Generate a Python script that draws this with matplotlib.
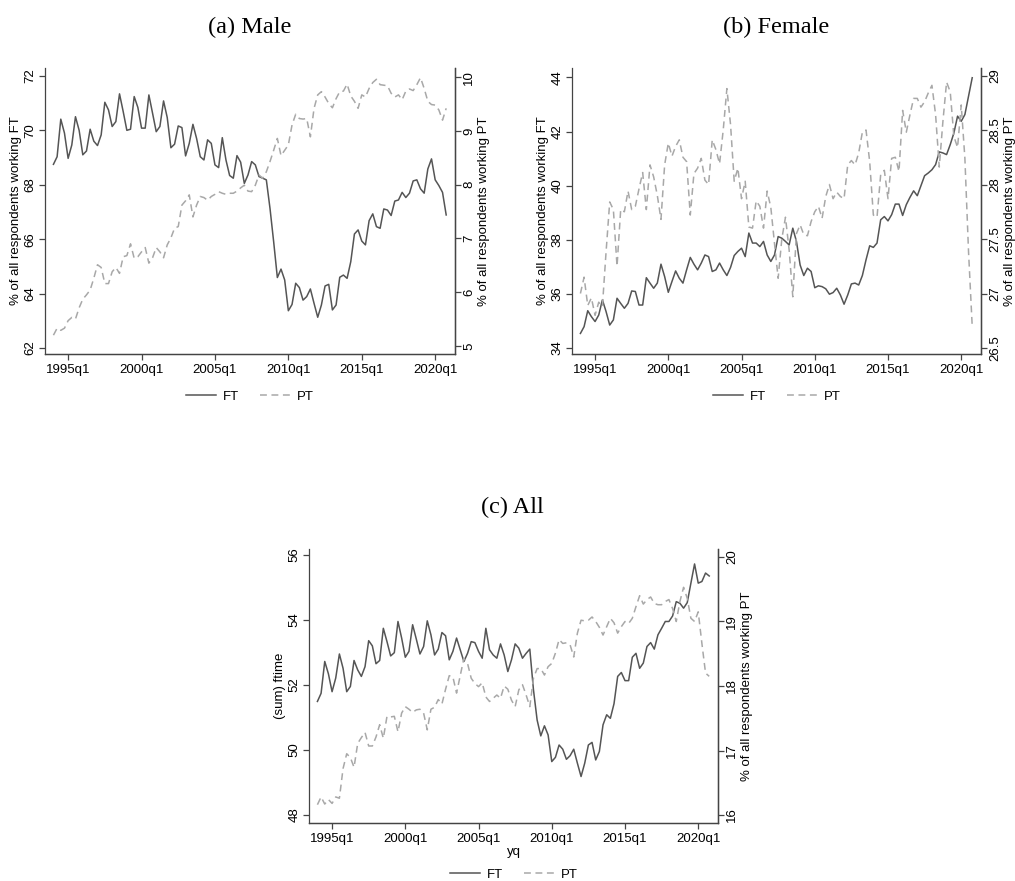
import numpy as np
import matplotlib
matplotlib.use("Agg")
import matplotlib.pyplot as plt
from matplotlib.lines import Line2D

plt.rcParams["font.family"] = ["Liberation Sans", "DejaVu Sans"]

# quarterly series, 1994q1 .. 2020q4
START_YEAR = 1994
TICK_LABELS = ["1995q1", "2000q1", "2005q1", "2010q1", "2015q1", "2020q1"]

male_ft = [68.75, 69.03, 70.41, 69.9, 68.97, 69.46, 70.5, 70.0, 69.1, 69.24,
           70.04, 69.6, 69.44, 69.83, 71.03, 70.75, 70.14, 70.32, 71.34, 70.69,
           70.0, 70.04, 71.24, 70.84, 70.08, 70.08, 71.3, 70.63, 69.95, 70.14,
           71.08, 70.47, 69.36, 69.49, 70.16, 70.1, 69.06, 69.52, 70.22, 69.7,
           69.03, 68.91, 69.65, 69.52, 68.73, 68.63, 69.73, 68.91, 68.34, 68.24,
           69.07, 68.83, 68.05, 68.36, 68.85, 68.73, 68.3, 68.24, 68.18, 67.13,
           65.9, 64.59, 64.9, 64.5, 63.37, 63.6, 64.38, 64.22, 63.76, 63.89,
           64.17, 63.64, 63.13, 63.58, 64.28, 64.34, 63.4, 63.58, 64.6, 64.68,
           64.56, 65.17, 66.19, 66.34, 65.93, 65.79, 66.68, 66.93, 66.46, 66.4,
           67.11, 67.07, 66.87, 67.4, 67.44, 67.72, 67.53, 67.69, 68.14, 68.18,
           67.85, 67.69, 68.58, 68.95, 68.18, 67.97, 67.72, 66.89]
male_pt = [5.2, 5.33, 5.29, 5.33, 5.47, 5.53, 5.5, 5.71, 5.87, 5.95,
           6.04, 6.26, 6.51, 6.46, 6.16, 6.16, 6.38, 6.46, 6.35, 6.66,
           6.68, 6.9, 6.63, 6.66, 6.75, 6.83, 6.54, 6.64, 6.83, 6.75,
           6.64, 6.88, 7.01, 7.19, 7.22, 7.62, 7.7, 7.81, 7.4, 7.62,
           7.78, 7.76, 7.71, 7.78, 7.82, 7.87, 7.84, 7.82, 7.84, 7.84,
           7.88, 7.94, 7.99, 7.88, 7.87, 7.99, 8.18, 8.12, 8.24, 8.43,
           8.64, 8.86, 8.54, 8.64, 8.74, 9.11, 9.31, 9.23, 9.22, 9.23,
           8.89, 9.42, 9.67, 9.73, 9.63, 9.51, 9.43, 9.6, 9.73, 9.74,
           9.87, 9.65, 9.55, 9.42, 9.67, 9.63, 9.79, 9.9, 9.96, 9.86,
           9.85, 9.84, 9.7, 9.63, 9.67, 9.58, 9.74, 9.78, 9.75, 9.86,
           9.99, 9.79, 9.55, 9.49, 9.48, 9.39, 9.2, 9.42]

female_ft = [34.54, 34.79, 35.38, 35.16, 34.98, 35.22, 35.78, 35.35, 34.85, 35.04,
             35.84, 35.65, 35.47, 35.65, 36.11, 36.09, 35.59, 35.59, 36.6, 36.4,
             36.21, 36.4, 37.1, 36.64, 36.06, 36.46, 36.85, 36.58, 36.4, 36.89,
             37.35, 37.1, 36.89, 37.14, 37.44, 37.38, 36.83, 36.89, 37.14, 36.89,
             36.68, 36.98, 37.42, 37.57, 37.69, 37.38, 38.25, 37.88, 37.88, 37.75,
             37.94, 37.44, 37.2, 37.44, 38.12, 38.06, 37.94, 37.81, 38.43, 37.94,
             37.07, 36.68, 36.95, 36.83, 36.23, 36.3, 36.27, 36.19, 35.99, 36.05,
             36.21, 35.96, 35.62, 35.96, 36.37, 36.4, 36.33, 36.68, 37.26, 37.78,
             37.72, 37.88, 38.74, 38.86, 38.7, 38.93, 39.32, 39.32, 38.9, 39.3,
             39.57, 39.81, 39.63, 40.0, 40.37, 40.47, 40.59, 40.78, 41.25, 41.21,
             41.15, 41.52, 41.95, 42.57, 42.38, 42.63, 43.31, 43.99]
female_pt = [27.0, 27.15, 26.89, 26.96, 26.8, 26.92, 26.88, 27.38, 27.84, 27.77,
             27.25, 27.77, 27.75, 27.94, 27.77, 27.8, 27.96, 28.11, 27.77, 28.18,
             28.07, 27.9, 27.68, 28.18, 28.38, 28.26, 28.35, 28.41, 28.25, 28.21,
             27.72, 28.1, 28.15, 28.24, 28.04, 28.0, 28.41, 28.32, 28.19, 28.5,
             28.88, 28.55, 28.03, 28.15, 27.87, 28.03, 27.61, 27.6, 27.85, 27.8,
             27.6, 27.94, 27.79, 27.46, 27.14, 27.5, 27.7, 27.4, 26.97, 27.55,
             27.63, 27.54, 27.53, 27.66, 27.75, 27.8, 27.69, 27.89, 28.0, 27.87,
             27.93, 27.89, 27.87, 28.18, 28.22, 28.18, 28.29, 28.48, 28.5, 28.21,
             27.72, 27.7, 28.09, 28.13, 27.87, 28.24, 28.25, 28.12, 28.68, 28.48,
             28.64, 28.79, 28.79, 28.71, 28.76, 28.84, 28.91, 28.64, 28.16, 28.58,
             28.94, 28.85, 28.44, 28.34, 28.73, 28.24, 27.38, 26.7]

all_ft = [51.49, 51.74, 52.72, 52.34, 51.79, 52.21, 52.95, 52.51, 51.79, 51.95,
          52.75, 52.46, 52.26, 52.56, 53.36, 53.2, 52.65, 52.75, 53.74, 53.33,
          52.89, 52.99, 53.95, 53.44, 52.85, 53.03, 53.85, 53.41, 52.95, 53.18,
          53.97, 53.54, 52.92, 53.1, 53.61, 53.51, 52.77, 53.03, 53.44, 53.08,
          52.72, 52.97, 53.33, 53.3, 53.03, 52.82, 53.74, 53.08, 52.92, 52.82,
          53.26, 52.92, 52.41, 52.77, 53.26, 53.13, 52.82, 52.97, 53.1, 51.85,
          50.92, 50.43, 50.74, 50.46, 49.64, 49.77, 50.15, 50.02, 49.71, 49.82,
          50.02, 49.59, 49.18, 49.59, 50.15, 50.23, 49.69, 49.95, 50.77, 51.08,
          50.97, 51.42, 52.26, 52.38, 52.13, 52.13, 52.85, 52.97, 52.51, 52.67,
          53.18, 53.3, 53.1, 53.54, 53.74, 53.95, 53.95, 54.12, 54.56, 54.51,
          54.36, 54.53, 55.13, 55.72, 55.13, 55.18, 55.44, 55.35]
all_pt = [16.16, 16.28, 16.17, 16.24, 16.18, 16.28, 16.26, 16.72, 16.95, 16.89,
          16.74, 17.11, 17.2, 17.28, 17.07, 17.07, 17.21, 17.4, 17.19, 17.53,
          17.52, 17.53, 17.29, 17.58, 17.68, 17.64, 17.59, 17.63, 17.64, 17.58,
          17.32, 17.64, 17.67, 17.79, 17.72, 17.95, 18.16, 18.14, 17.89, 18.16,
          18.43, 18.35, 18.12, 18.04, 17.99, 18.05, 17.83, 17.76, 17.81, 17.86,
          17.81, 18.0, 17.95, 17.78, 17.68, 17.94, 18.02, 17.86, 17.68, 18.12,
          18.27, 18.27, 18.17, 18.3, 18.35, 18.51, 18.72, 18.66, 18.67, 18.64,
          18.45, 18.82, 19.02, 19.01, 19.02, 19.07, 19.0, 18.91, 18.79, 18.92,
          19.05, 18.98, 18.82, 18.92, 19.0, 18.97, 19.05, 19.23, 19.4, 19.27,
          19.34, 19.38, 19.28, 19.26, 19.26, 19.31, 19.34, 19.2, 19.0, 19.31,
          19.53, 19.36, 19.05, 19.0, 19.15, 18.66, 18.2, 18.15]

FT_COLOR = "#555555"
PT_COLOR = "#a8a8a8"
AX_COLOR = "#444444"
TICK_FS = 9.5
W, H = 1015, 881


def quarter_index(label):
    return (int(label[:4]) - START_YEAR) * 4 + int(label[-1]) - 1


def px_axes(left, top, right, bottom):
    return [left / W, 1 - bottom / H, (right - left) / W, (bottom - top) / H]


def style_y(ax, side):
    for lab in ax.get_yticklabels():
        lab.set_rotation(90)
        lab.set_va("center")
    ax.tick_params(axis="y", length=4, width=0.9, color=AX_COLOR,
                   labelsize=TICK_FS, pad=2)
    ax.spines[side].set_color(AX_COLOR)


def draw_panel(fig, rect, ft, pt, ft_lim, ft_ticks, pt_lim, pt_ticks,
               ft_label, pt_label, legend_y, xlabel=None):
    x = np.arange(len(ft))
    ax = fig.add_axes(rect)
    ax2 = ax.twinx()
    ax.plot(x, ft, color=FT_COLOR, lw=1.1)
    ax2.plot(x, pt, color=PT_COLOR, lw=1.1, dashes=(4.5, 3))

    ax.set_xlim(-2.3, 109.4)
    ax.set_xticks([quarter_index(t) for t in TICK_LABELS])
    ax.set_xticklabels(TICK_LABELS)
    ax.tick_params(axis="x", length=4, width=0.9, color=AX_COLOR,
                   labelsize=TICK_FS, pad=3)

    ax.set_ylim(*ft_lim)
    ax.set_yticks(ft_ticks)
    ax.set_yticklabels([f"{t:g}" for t in ft_ticks])
    ax2.set_ylim(*pt_lim)
    ax2.set_yticks(pt_ticks)
    ax2.set_yticklabels([f"{t:g}" for t in pt_ticks])
    style_y(ax, "left")
    style_y(ax2, "right")

    for a in (ax, ax2):
        a.spines["top"].set_visible(False)
        a.spines["bottom"].set_color(AX_COLOR)
        for s in a.spines.values():
            s.set_linewidth(0.9)
    ax2.spines["left"].set_visible(False)

    ax.set_ylabel(ft_label, fontsize=TICK_FS, labelpad=2)
    ax2.set_ylabel(pt_label, fontsize=TICK_FS, labelpad=2)
    if xlabel:
        ax.set_xlabel(xlabel, fontsize=TICK_FS, labelpad=1)

    handles = [Line2D([], [], color=FT_COLOR, lw=1.1),
               Line2D([], [], color=PT_COLOR, lw=1.1, dashes=(4.5, 3))]
    ax.legend(handles, ["FT", "PT"], loc="center", ncol=2,
              bbox_to_anchor=(0.5, legend_y), frameon=False,
              fontsize=TICK_FS, handlelength=2.3, columnspacing=1.6,
              handletextpad=0.5, borderpad=0.2)
    return ax


fig = plt.figure(figsize=(W / 100, H / 100), dpi=100)

draw_panel(fig, px_axes(45, 68, 455, 354), male_ft, male_pt,
           (61.78, 72.29), [62, 64, 66, 68, 70, 72],
           (4.85, 10.17), [5, 6, 7, 8, 9, 10],
           "% of all respondents working FT", "% of all respondents working PT",
           -0.15)
draw_panel(fig, px_axes(572, 68, 981, 354), female_ft, female_pt,
           (33.78, 44.35), [34, 36, 38, 40, 42, 44],
           (26.445, 29.069), [26.5, 27, 27.5, 28, 28.5, 29],
           "% of all respondents working FT", "% of all respondents working PT",
           -0.15)
draw_panel(fig, px_axes(309, 549, 718, 823), all_ft, all_pt,
           (47.75, 56.18), [48, 50, 52, 54, 56],
           (15.876, 20.124), [16, 17, 18, 19, 20],
           "(sum) ftime", "% of all respondents working PT",
           -0.188, xlabel="yq")

title_kw = dict(ha="center", va="center", fontsize=17.5,
                family=["Liberation Serif", "DejaVu Serif"])
fig.text(250 / W, 1 - 27 / H, "(a) Male", **title_kw)
fig.text(776 / W, 1 - 27 / H, "(b) Female", **title_kw)
fig.text(512 / W, 1 - 507 / H, "(c) All", **title_kw)

fig.savefig("out.png", dpi=100, facecolor="white")
